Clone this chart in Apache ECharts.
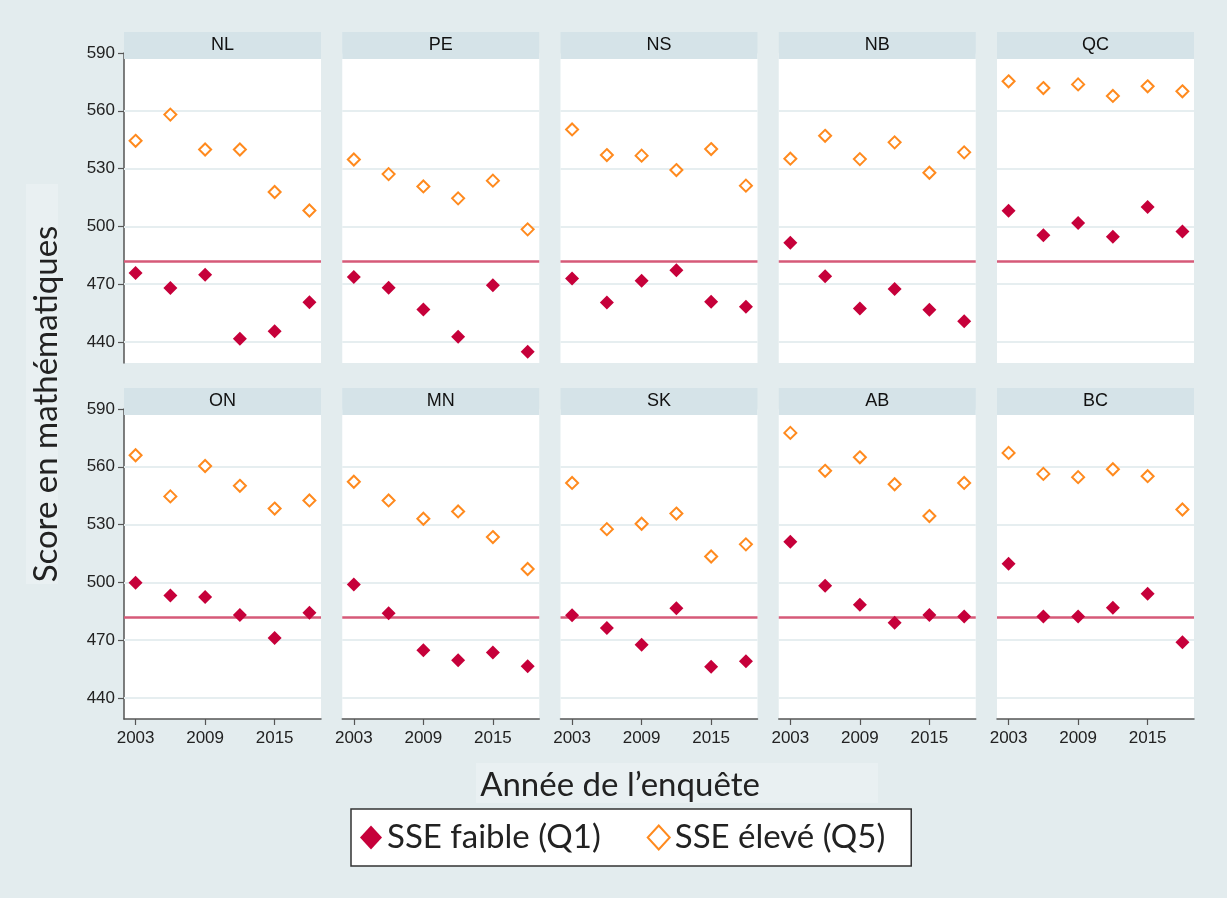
<!DOCTYPE html>
<html lang="fr">
<head>
<meta charset="utf-8">
<title>Score en mathématiques</title>
<script src="https://cdn.jsdelivr.net/npm/echarts@6/dist/echarts.min.js"></script>
<style>
  html, body { margin: 0; padding: 0; background: #e3ecee; }
  #chart { width: 1227px; height: 898px; }
</style>
</head>
<body>
<div id="chart"></div>
<script>
// années de l'enquête PISA
var years = [2003, 2006, 2009, 2012, 2015, 2018];
var yearTicks = [2003, 2009, 2015];
var scoreTicks = [440, 470, 500, 530, 560, 590];
var canadaQ1 = 482;            // ligne de référence

var provinces = ['NL', 'PE', 'NS', 'NB', 'QC', 'ON', 'MN', 'SK', 'AB', 'BC'];

// SSE faible (Q1) / SSE élevé (Q5)
var NL_q1 = [475.7, 467.9, 474.8, 441.6, 445.5, 460.6];
var NL_q5 = [544.4, 558.0, 539.9, 539.9, 517.8, 508.2];
var PE_q1 = [473.6, 468.1, 456.8, 442.6, 469.4, 434.8];
var PE_q5 = [534.7, 527.1, 520.7, 514.5, 523.7, 498.4];
var NS_q1 = [472.9, 460.4, 471.7, 477.2, 460.8, 458.2];
var NS_q5 = [550.3, 537.0, 536.7, 529.2, 540.1, 521.1];
var NB_q1 = [491.4, 474.0, 457.3, 467.4, 456.6, 450.7];
var NB_q5 = [535.1, 547.0, 534.9, 543.6, 527.8, 538.4];
var QC_q1 = [508.1, 495.3, 501.7, 494.6, 510.0, 497.3];
var QC_q5 = [575.3, 571.8, 573.7, 567.7, 572.7, 570.1];
var ON_q1 = [499.8, 493.1, 492.4, 483.0, 471.1, 484.2];
var ON_q5 = [566.0, 544.6, 560.4, 550.1, 538.3, 542.5];
var MN_q1 = [498.8, 483.9, 464.7, 459.5, 463.5, 456.4];
var MN_q5 = [552.2, 542.5, 533.0, 536.8, 523.5, 506.9];
var SK_q1 = [482.9, 476.3, 467.5, 486.5, 456.1, 459.0];
var SK_q5 = [551.6, 527.6, 530.4, 535.7, 513.4, 519.7];
var AB_q1 = [521.0, 498.2, 488.4, 479.0, 483.0, 482.2];
var AB_q5 = [577.6, 557.9, 564.9, 550.9, 534.4, 551.6];
var BC_q1 = [509.6, 482.2, 482.2, 486.8, 494.1, 468.9];
var BC_q5 = [567.2, 556.3, 554.6, 558.7, 555.1, 537.8];

var q1Data = [NL_q1, PE_q1, NS_q1, NB_q1, QC_q1, ON_q1, MN_q1, SK_q1, AB_q1, BC_q1];
var q5Data = [NL_q5, PE_q5, NS_q5, NB_q5, QC_q5, ON_q5, MN_q5, SK_q5, AB_q5, BC_q5];

var Q1_NAME = 'SSE faible (Q1)';
var Q5_NAME = 'SSE élevé (Q5)';

(function(){
    var chart = echarts.init(document.getElementById('chart'));

    var grids = [], xAxes = [], yAxes = [], series = [], graphics = [];
    var rowTops = [53, 409];
    var panelW = 197, panelH = 310;

    function pairs(vals){
        return years.map(function(y, k){ return [y, vals[k]]; });
    }
    function plain(v){ return String(v); }

    // fonds clairs derrière les titres d'axes
    graphics.push({ type: 'rect', shape: { x: 26, y: 184, width: 32, height: 400 },
                    style: { fill: '#e9f0f2' }, z: 0 });
    graphics.push({ type: 'rect', shape: { x: 476, y: 763, width: 402, height: 40 },
                    style: { fill: '#e9f0f2' }, z: 0 });

    for (var i = 0; i < provinces.length; i++) {
        var row = Math.floor(i / 5), col = i % 5;
        var gLeft = 124 + col * 218.25;
        var gTop = rowTops[row];
        var firstCol = col === 0, bottomRow = row === 1;

        grids.push({
            left: gLeft, top: gTop, width: panelW, height: panelH,
            show: true, backgroundColor: '#ffffff', borderWidth: 0
        });

        xAxes.push({
            gridIndex: i, type: 'value', min: 2002, max: 2019,
            axisLine: { show: bottomRow, lineStyle: { color: '#555', width: 1.5 } },
            axisTick: { show: bottomRow, customValues: yearTicks, length: 6, lineStyle: { color: '#555', width: 1.2 } },
            axisLabel: { show: bottomRow, customValues: yearTicks, margin: 11, formatter: plain,
                         fontFamily: 'Liberation Sans', fontSize: 17, color: '#222' },
            splitLine: { show: false }
        });

        yAxes.push({
            gridIndex: i, type: 'value', min: 429, max: 590,
            axisLine: { show: firstCol, lineStyle: { color: '#555', width: 1.5 } },
            axisTick: { show: firstCol, customValues: scoreTicks, length: 6, lineStyle: { color: '#555', width: 1.2 } },
            axisLabel: { show: firstCol, customValues: scoreTicks, margin: 9, formatter: plain,
                         fontFamily: 'Liberation Sans', fontSize: 17, color: '#222' },
            splitLine: { show: false }
        });

        // grille + ligne de référence (sous les points)
        var lines = scoreTicks.map(function(v){
            return { yAxis: v, lineStyle: { color: '#e6eef0', width: 2, type: 'solid' } };
        });
        lines.push({ yAxis: canadaQ1, lineStyle: { color: '#d65a78', width: 2.5, type: 'solid' } });
        series.push({
            type: 'line', xAxisIndex: i, yAxisIndex: i, data: [], z: 1, silent: true,
            markLine: { z: 1, silent: true, symbol: ['none', 'none'], label: { show: false },
                        animation: false, data: lines }
        });

        series.push({
            name: Q1_NAME, type: 'scatter', xAxisIndex: i, yAxisIndex: i, z: 3,
            symbol: 'diamond', symbolSize: 14,
            itemStyle: { color: '#c6003a', opacity: 1 },
            data: pairs(q1Data[i])
        });
        series.push({
            name: Q5_NAME, type: 'scatter', xAxisIndex: i, yAxisIndex: i, z: 3,
            symbol: 'diamond', symbolSize: 12,
            itemStyle: { color: '#ffffff', borderColor: '#ff8a1e', borderWidth: 2, opacity: 1 },
            data: pairs(q5Data[i])
        });

        // bandeau du titre du panneau
        graphics.push({
            type: 'rect', shape: { x: gLeft, y: gTop - 21, width: panelW, height: 27 },
            style: { fill: '#d5e3e8' }, z: 50
        });
        graphics.push({
            type: 'text', x: gLeft + panelW / 2, y: gTop - 7.5, z: 51,
            style: { text: provinces[i], fontFamily: 'Liberation Sans', fontSize: 18,
                     fill: '#111', align: 'center', verticalAlign: 'middle' }
        });
    }

    graphics.push({
        type: 'text', x: 46, y: 404, rotation: Math.PI / 2, z: 51,
        style: { text: 'Score en mathématiques', fontFamily: 'Lato', fontSize: 33,
                 fill: '#222', align: 'center', verticalAlign: 'middle' }
    });
    graphics.push({
        type: 'text', x: 620, y: 785, z: 51,
        style: { text: 'Année de l\u2019enquête', fontFamily: 'Lato', fontSize: 33,
                 fill: '#222', align: 'center', verticalAlign: 'middle' }
    });

    var option = {
        animation: false,
        backgroundColor: '#e3ecee',
        grid: grids,
        xAxis: xAxes,
        yAxis: yAxes,
        series: series,
        graphic: graphics,
        legend: {
            data: [Q1_NAME, Q5_NAME],
            left: 351, top: 809,
            backgroundColor: '#ffffff', borderColor: '#333', borderWidth: 1.5, borderRadius: 0,
            padding: [12, 26, 12, 9],
            itemGap: 46, itemWidth: 22, itemHeight: 24,
            icon: 'diamond',
            textStyle: { fontFamily: 'Lato', fontSize: 33, color: '#222' }
        }
    };
    chart.setOption(option);
})();
</script>
</body>
</html>
